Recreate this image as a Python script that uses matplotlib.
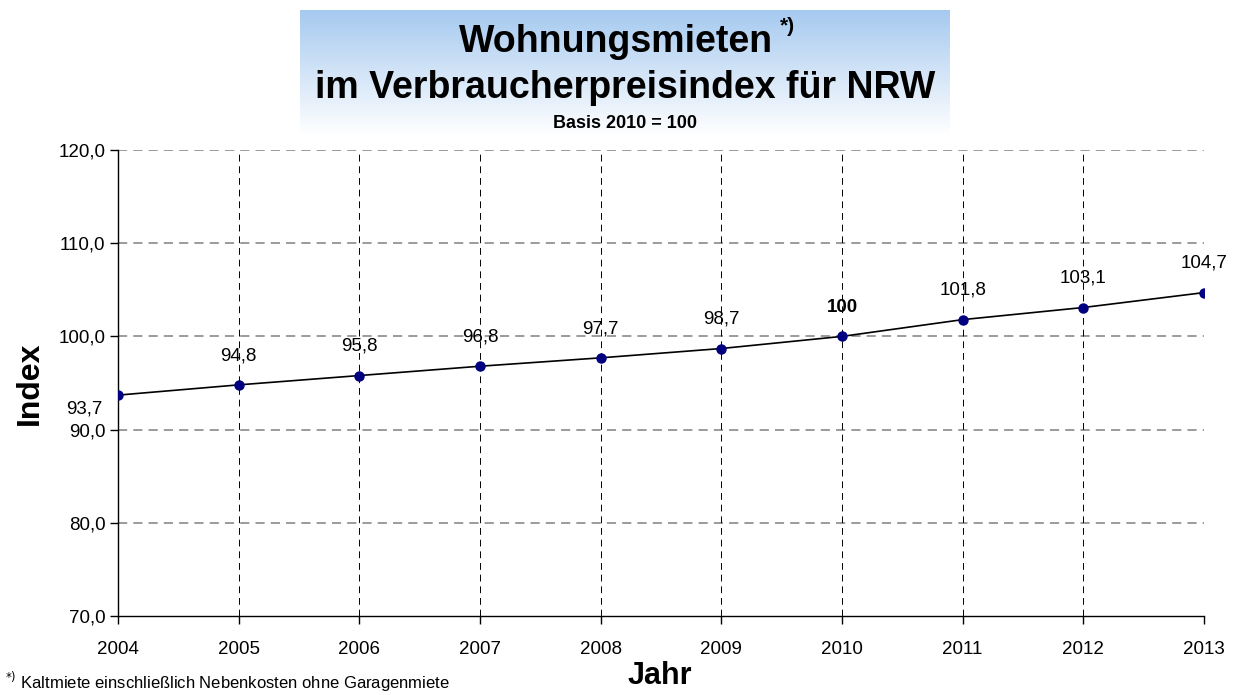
import matplotlib
matplotlib.use("Agg")
import matplotlib.pyplot as plt
import numpy as np

years = [2004, 2005, 2006, 2007, 2008, 2009, 2010, 2011, 2012, 2013]
values = [93.7, 94.8, 95.8, 96.8, 97.7, 98.7, 100.0, 101.8, 103.1, 104.7]
labels = ["93,7", "94,8", "95,8", "96,8", "97,7", "98,7", "100", "101,8", "103,1", "104,7"]
yticks = [70, 80, 90, 100, 110, 120]
ytick_labels = ["70,0", "80,0", "90,0", "100,0", "110,0", "120,0"]

W, H = 1236, 695
fig = plt.figure(figsize=(W / 100, H / 100), dpi=100)
plt.rcParams['font.family'] = ['Liberation Sans', 'DejaVu Sans']

# title gradient box
bx = fig.add_axes([300 / W, 1 - 135 / H, 650 / W, 125 / H])
grad = np.linspace(0, 1, 256).reshape(-1, 1)
top = np.array([0.65, 0.79, 0.94])
bot = np.array([1.0, 1.0, 1.0])
img = top[None, None, :] * (1 - grad[..., None]) + bot[None, None, :] * grad[..., None]
bx.imshow(np.clip(img, 0, 1), aspect='auto', extent=[0, 1, 0, 1])
bx.set_axis_off()

ax = fig.add_axes([118 / W, 1 - 616 / H, (1204 - 118) / W, (616 - 150) / H])
ax.plot(years, values, color='black', lw=1.2, zorder=3)
ax.plot(years, values, 'o', color='#000080', ms=6.5, zorder=4)
ax.set_xlim(2004, 2013)
ax.set_ylim(70, 120)
ax.set_yticks(yticks)
ax.set_yticklabels(ytick_labels, fontsize=13.5)
ax.set_xticks(years)
ax.set_xticklabels([str(y) for y in years], fontsize=13.5)
ax.tick_params(axis='y', direction='out', length=6, width=1, pad=3)
ax.tick_params(axis='x', direction='out', length=6, width=1, pad=12)
for s in ['top', 'right']:
    ax.spines[s].set_visible(False)
for s in ['left', 'bottom']:
    ax.spines[s].set_color('black')
    ax.spines[s].set_linewidth(1)
for yv in yticks[1:]:
    ax.axhline(yv, color='#808080', ls=(0, (6, 4)), lw=1.1, zorder=1)
for xv in years[1:]:
    ax.axvline(xv, color='black', ls=(0, (7, 5)), lw=0.7, zorder=1)

for i, (x, v, t) in enumerate(zip(years, values, labels)):
    if i == 0:
        ax.annotate(t, (x, v), xytext=(-24, -10), textcoords='offset points',
                    ha='center', va='center', fontsize=13.5)
    else:
        ax.annotate(t, (x, v), xytext=(0, 21), textcoords='offset points',
                    ha='center', va='center', fontsize=13.5,
                    fontweight='bold' if t == "100" else 'normal')

ax.set_ylabel("Index", fontsize=23, fontweight='bold', labelpad=10)

fig.text(660 / W, 1 - 676 / H, "Jahr", fontsize=22, fontweight='bold', ha='center', va='center')
fig.text(616 / W, 1 - 42 / H, "Wohnungsmieten", fontsize=27, fontweight='bold', ha='center', va='center')
fig.text(780 / W, 1 - 26 / H, "*)", fontsize=15, fontweight='bold', ha='left', va='center')
fig.text(625 / W, 1 - 88 / H, "im Verbraucherpreisindex für NRW", fontsize=27, fontweight='bold', ha='center', va='center')
fig.text(625 / W, 1 - 124 / H, "Basis 2010 = 100", fontsize=13, fontweight='bold', ha='center', va='center')
fig.text(5 / W, 1 / H, "$^{*)}$ Kaltmiete einschließlich Nebenkosten ohne Garagenmiete",
         fontsize=12, ha='left', va='bottom')

fig.savefig("out.png", dpi=100)
